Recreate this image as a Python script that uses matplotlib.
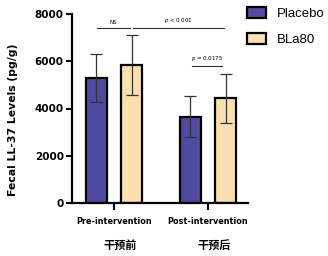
import matplotlib
matplotlib.use("Agg")
import matplotlib.pyplot as plt
from matplotlib.patches import Patch
import numpy as np

groups = ["Pre-intervention", "Post-intervention"]
groups_cn = ["干预前", "干预后"]
series = ["Placebo", "BLa80"]
placebo_mean = [5280, 3660]
placebo_sd = [1020, 880]
bla80_mean = [5830, 4425]
bla80_sd = [1270, 1040]
colors = ["#5049A0", "#FCDFAE"]
annotations = [("NS", -0.18, 0.17, 7400), ("p < 0.001", 0.20, 1.17, 7400), ("p = 0.0175", 0.83, 1.15, 5790)]

fig = plt.figure(figsize=(3.28, 2.56), dpi=100)
ax = fig.add_axes([72/328, 1-203/256, (248-72)/328, (203-14)/256])

x = np.arange(len(groups))
w = 0.225
off = 0.19
for i, (m, sd) in enumerate([(placebo_mean, placebo_sd), (bla80_mean, bla80_sd)]):
    xs = x + (i*2-1)*off
    ax.bar(xs, m, width=w, color=colors[i], edgecolor="black", linewidth=1.6, zorder=2)
    ax.errorbar(xs, m, yerr=sd, fmt="none", ecolor="#333333", elinewidth=0.9, capsize=4.5, capthick=0.9, zorder=3)

for txt, x0, x1, y in annotations:
    ax.plot([x0, x1], [y, y], color="#333333", lw=0.8, clip_on=False)
    if txt.startswith("p"):
        lab = r"$\mathit{p}$" + txt[1:]
    else:
        lab = txt
    ax.text((x0+x1)/2, y+120, lab, ha="center", va="bottom", fontsize=4)

ax.set_xlim(-0.447, 1.426)
ax.set_ylim(0, 8000)
ax.set_yticks([0, 2000, 4000, 6000, 8000])
ax.set_yticklabels(["0", "2000", "4000", "6000", "8000"], fontsize=7.5, fontweight="bold")
ax.set_xticks(x)
ax.set_xticklabels(groups, fontsize=5.9, fontweight="bold")
ax.tick_params(axis="y", length=4, width=1.5, pad=2)
ax.tick_params(axis="x", length=5, width=1.5, pad=5)
for s in ["top", "right"]:
    ax.spines[s].set_visible(False)
for s in ["left", "bottom"]:
    ax.spines[s].set_linewidth(1.6)

ax.set_ylabel("Fecal LL-37 Levels (pg/g)", fontsize=7.8, fontweight="bold")
ax.yaxis.set_label_coords(-0.307, 0.44)

for gx, cn in zip(x, groups_cn):
    ax.text(gx + 0.07, -0.222, cn, transform=ax.get_xaxis_transform(), ha="center", va="center",
            fontsize=8, fontweight="bold", family=["Noto Sans CJK SC", "DejaVu Sans"])

handles = [Patch(facecolor=colors[i], edgecolor="black", linewidth=1.6, label=series[i]) for i in range(2)]
fig.legend(handles=handles, loc="upper left", bbox_to_anchor=(240/328, 1.0), frameon=False,
           prop={"family": "Liberation Sans", "size": 9.5}, handlelength=1.45, handleheight=0.95,
           labelspacing=1.0, handletextpad=0.85, borderaxespad=0.1)

fig.savefig("out.png", dpi=100)
